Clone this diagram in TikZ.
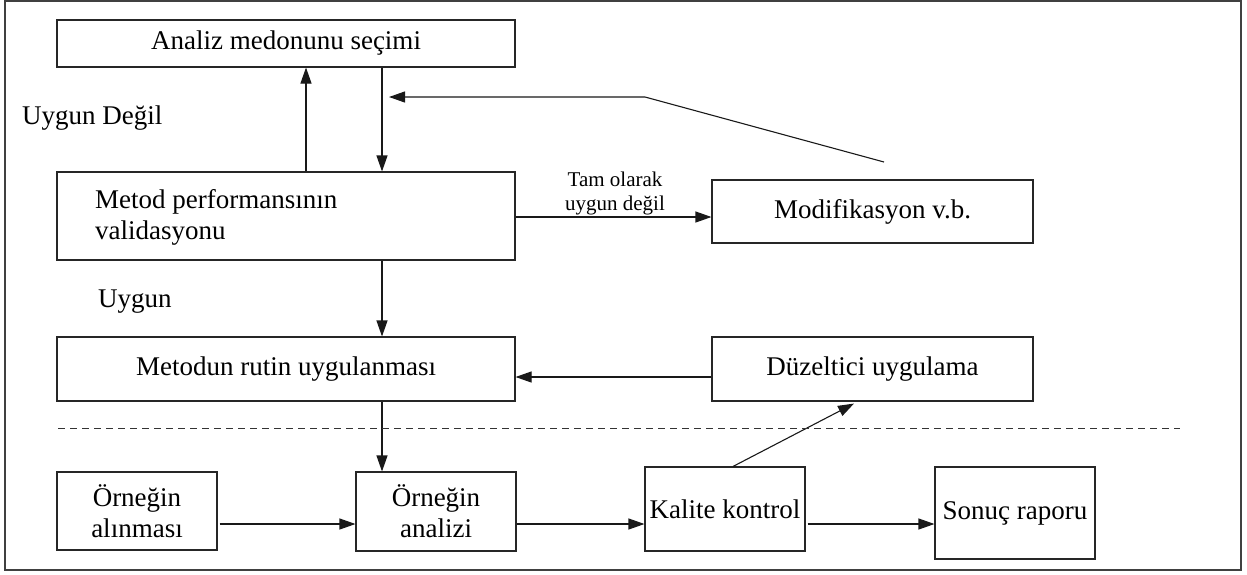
\documentclass[tikz,border=0pt]{standalone}
\usepackage{fontspec}
\setmainfont{Liberation Serif}
\usetikzlibrary{arrows.meta,calc}
\begin{document}
\begin{tikzpicture}[x=1pt,y=-1pt,
  box/.style={draw=black!85,line width=1.1pt,rectangle,inner sep=0pt,anchor=center,
     font=\fontsize{27}{31}\selectfont,align=center},
  lbl/.style={inner sep=0pt,font=\fontsize{27}{31}\selectfont},
  small/.style={inner sep=0pt,font=\fontsize{21}{24}\selectfont,align=center},
  arr/.style={line width=1.1pt,draw=black!90,-{Triangle[length=16pt,width=11pt]}},
  ln/.style={line width=1.1pt,draw=black!90}]
\useasboundingbox (0,0) rectangle (1247,574);
\draw[draw=black!75,line width=1.5pt] (5,1) rectangle (1241,570);
% boxes
\node[box,minimum width=458pt,minimum height=47pt] (A) at (286,43.5) {Analiz medonunu seçimi};
\node[box,minimum width=458pt,minimum height=88pt] (M) at (286,216) {};
\node[lbl,anchor=west,align=left] (Mt) at (95,217.5) {Metod performansının\\validasyonu};
\node[box,minimum width=321pt,minimum height=63pt] (Mod) at (872.5,211.5) {Modifikasyon v.b.};
\node[box,minimum width=458pt,minimum height=64pt] (R) at (286,369) {Metodun rutin uygulanması};
\node[box,minimum width=321pt,minimum height=64pt] (D) at (872.5,369) {Düzeltici uygulama};
\node[box,minimum width=160pt,minimum height=78pt] (O1) at (137,511) {Örneğin\\alınması};
\node[box,minimum width=160pt,minimum height=79pt] (O2) at (436,511.5) {Örneğin\\analizi};
\node[box,minimum width=160pt,minimum height=84pt] (K) at (725,509) {Kalite kontrol};
\node[box,minimum width=160pt,minimum height=92pt] (S) at (1015,513) {Sonuç raporu};
% labels
\node[lbl,anchor=west] (UD) at (22,118) {Uygun Değil};
\node[lbl,anchor=west] (U) at (98,302) {Uygun};
\node[small] (T) at (615,193) {Tam olarak\\uygun değil};
% helper coordinates
\coordinate (xup) at (306,0);
\coordinate (xdn) at (382,0);
\coordinate (ya) at (0,217);
\coordinate (yb) at (0,377);
\coordinate (yc) at (0,524);
\coordinate (fb1) at (884,162);
\coordinate (fb2) at (645,97);
\coordinate (fb3) at (389,97);
\coordinate (kq) at (733,0);
\coordinate (dq) at (854,0);
\coordinate (d1) at (58,428);
\coordinate (d2) at (1180,428);
% connectors
\draw[arr] (M.north -| xup) -- (A.south -| xup);
\draw[arr] (A.south -| xdn) -- (M.north -| xdn);
\draw[arr] (fb1) -- (fb2) -- (fb3);
\draw[arr] (M.east |- ya) -- (Mod.west |- ya);
\draw[arr] (M.south -| xdn) -- (R.north -| xdn);
\draw[arr] (D.west |- yb) -- (R.east |- yb);
\draw[arr] (R.south -| xdn) -- (O2.north -| xdn);
\draw[arr] ([xshift=2pt]O1.east |- yc) -- (O2.west |- yc);
\draw[arr] (O2.east |- yc) -- (K.west |- yc);
\draw[arr] ([xshift=2pt]K.east |- yc) -- (S.west |- yc);
\draw[arr] (K.north -| kq) -- ([yshift=-2pt]D.south -| dq);
\draw[line width=1pt,draw=black!80,dash pattern=on 7pt off 5pt] (d1) -- (d2);
\end{tikzpicture}
\end{document}
